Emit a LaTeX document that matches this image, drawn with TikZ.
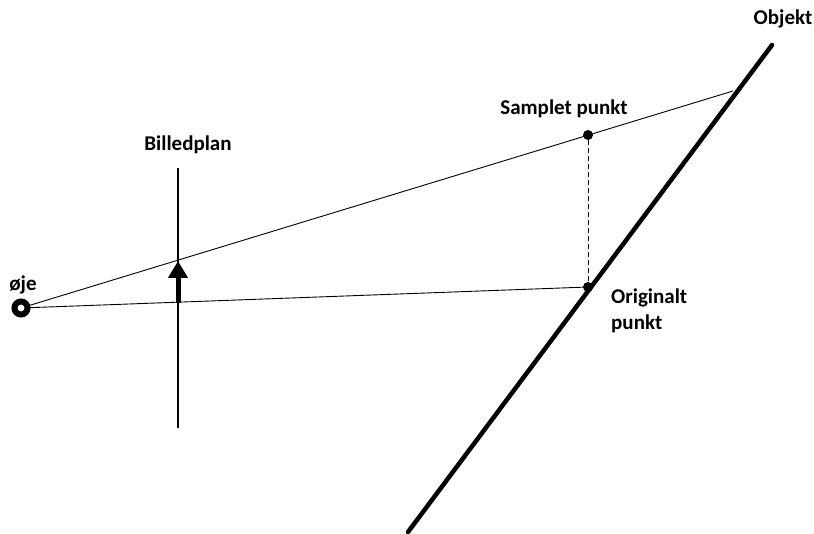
\documentclass[tikz,border=0pt]{standalone}
\usepackage{fontspec}
\setmainfont{Carlito}
\usetikzlibrary{arrows.meta,calc}
\begin{document}
\begin{tikzpicture}[x=1pt,y=-1pt,
  lbl/.style={font=\bfseries\fontsize{21}{26}\selectfont, text=black, inner sep=0pt},
  ray/.style={line width=0.9pt},
  dot/.style={circle, fill=black, inner sep=0pt, minimum size=10pt}]
\useasboundingbox (0,0) rectangle (814,534);
% points
\coordinate (eye) at (21,308);
\coordinate (objtop) at (772,45);
\coordinate (objbot) at (408,532);
\coordinate (hit) at (733,91);
\node[dot] (samp) at (588,135) {};
\node[dot] (orig) at (588,287) {};
\coordinate (bptop) at (178,168);
\coordinate (bpbot) at (178,428);
\coordinate (arrbase) at (178,303);
\coordinate (arrtip) at (178,261);
% object
\draw[line width=4.5pt, line cap=round] (objbot) -- (objtop);
% rays
\draw[ray] (eye) -- (hit);
\draw[ray] (eye) -- (orig.center);
% image plane
\draw[line width=1.2pt] (bptop) -- (bpbot);
\draw[line width=5pt, -{Triangle[width=19pt,length=17pt]}] (arrbase) -- (arrtip);
% dashed
\draw[line width=0.9pt, dash pattern=on 5pt off 3pt] (samp) -- (orig);
% eye
\node[circle, draw=black, line width=6pt, fill=white, inner sep=0pt, minimum size=13pt] (eyec) at (eye) {};
% labels
\node[lbl] (loje) at (23,285) {øje};
\node[lbl] (lobj) at (783,19) {Objekt};
\node[lbl] (lsamp) at (564,109) {Samplet punkt};
\node[lbl] (lbp) at (188,145) {Billedplan};
\node[lbl, anchor=west, align=left] (lorig) at (611,311) {Originalt\\punkt};
\end{tikzpicture}
\end{document}
